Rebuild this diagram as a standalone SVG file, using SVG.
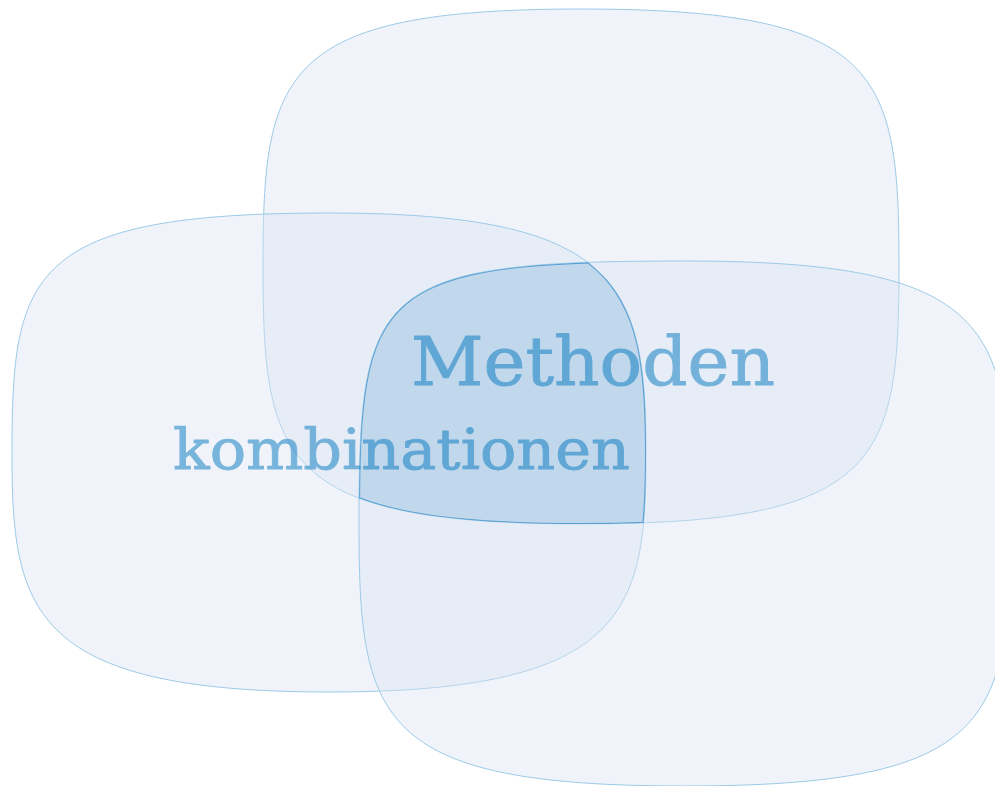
<svg xmlns="http://www.w3.org/2000/svg" xmlns:xlink="http://www.w3.org/1999/xlink" width="995" height="786" viewBox="0 0 995 786">
  <style>
    .blob { fill: rgb(218,228,243); fill-opacity: 0.4; stroke: #9ccae8; stroke-width: 1; }
    .core { fill: #c0d7ec; stroke: none; }
    .coreline { fill: none; stroke: #5aa2d4; stroke-width: 2; }
    .lbl { font-family: "DejaVu Serif", "Liberation Serif", serif; fill: #0a7cc1; stroke: #0a7cc1; stroke-width: 0.9; stroke-linejoin: round; }
  </style>
  <defs>
    <path id="pA" d="M899,266.5 C899,73.4 883.1,9 581,9 C278.9,9 263,73.4 263,266.5 C263,459.6 278.9,524 581,524 C883.1,524 899,459.6 899,266.5 Z"/>
    <path id="pB" d="M646,452.5 C646,284.8 620.6,213 329,213 C27.8,213 12,272.9 12,452.5 C12,608.2 27.8,692 329,692 C630.2,692 646,608.2 646,452.5 Z"/>
    <path id="pC" d="M1010,523.5 C1010,326.6 993.7,261 684.5,261 C375.3,261 359,287.2 359,523.5 C359,720.4 375.3,786 684.5,786 C993.7,786 1010,720.4 1010,523.5 Z"/>
    <clipPath id="cA"><use xlink:href="#pA"/></clipPath>
    <clipPath id="cB"><use xlink:href="#pB"/></clipPath>
    <clipPath id="cC"><use xlink:href="#pC"/></clipPath>
  </defs>
  <rect width="995" height="786" fill="#ffffff"/>
  <g id="shape-a"><use xlink:href="#pA" class="blob"/></g>
  <g id="shape-b"><use xlink:href="#pB" class="blob"/></g>
  <g id="shape-c"><use xlink:href="#pC" class="blob"/></g>
  <g id="overlap" clip-path="url(#cA)">
    <g clip-path="url(#cB)">
      <g clip-path="url(#cC)">
        <rect x="300" y="200" width="400" height="380" class="core"/>
        <use xlink:href="#pA" class="coreline"/>
        <use xlink:href="#pB" class="coreline"/>
        <use xlink:href="#pC" class="coreline"/>
      </g>
    </g>
  </g>
  <g id="connectors"/>
  <g id="label" opacity="0.52">
    <text class="lbl" x="411" y="385" font-size="67" textLength="364" lengthAdjust="spacingAndGlyphs">Methoden</text>
    <text class="lbl" x="173" y="469" font-size="56" textLength="457" lengthAdjust="spacingAndGlyphs">kombinationen</text>
  </g>
</svg>
